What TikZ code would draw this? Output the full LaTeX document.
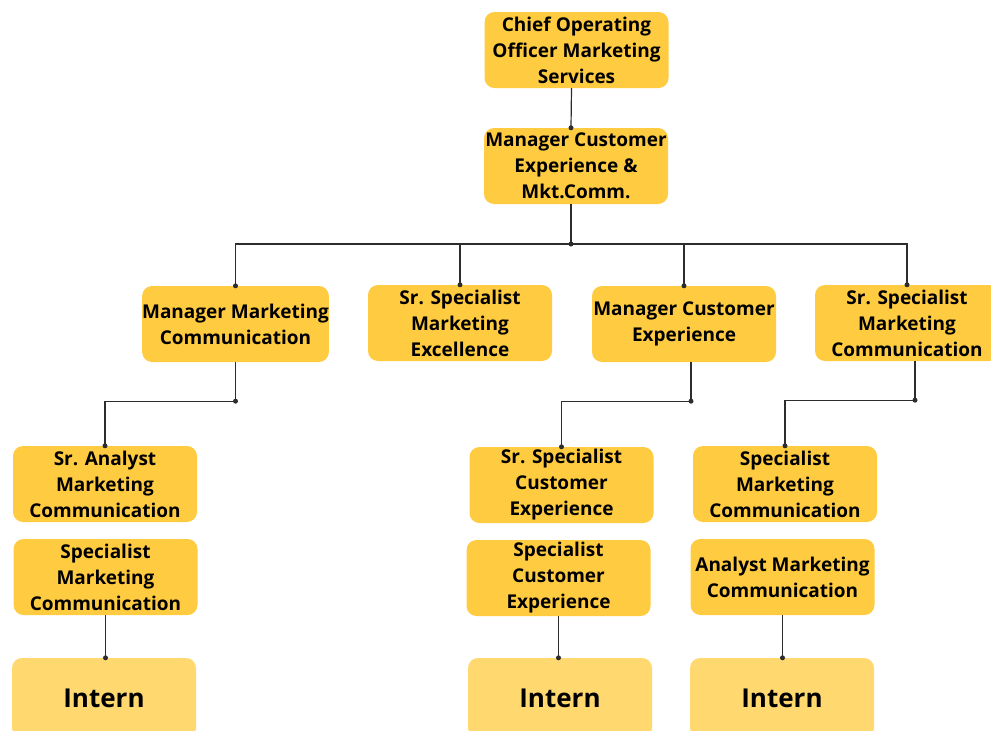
\documentclass[tikz,border=0pt]{standalone}
\usepackage{fontspec}
\setmainfont{Open Sans}
\definecolor{boxy}{RGB}{255,203,64}
\definecolor{interny}{RGB}{255,217,112}
\definecolor{linec}{RGB}{45,45,45}
\newcommand\orgdot[1]{\fill[linec] (#1) circle (2.5pt);}
\begin{document}
\begin{tikzpicture}[x=1pt,y=-1pt,
  box/.style={fill=boxy, rounded corners=10pt, minimum width=184pt, minimum height=76pt,
    align=center, inner sep=0pt, text=black, font=\fontsize{19}{26}\selectfont\bfseries},
  intern/.style={box, fill=interny, minimum height=80pt, font=\fontsize{26}{30}\selectfont\bfseries},
  conn/.style={draw=linec, line width=1.2pt}]
\useasboundingbox (0,0) rectangle (991,731);
\clip (0,0) rectangle (991,731);
% nodes
\node[box] (coo) at (576.5,50) {Chief Operating\\Officer Marketing\\Services};
\node[box] (mce) at (576,166) {Manager Customer\\Experience \&\\Mkt.Comm.};
\node[box] (mmc) at (235.5,324) {Manager Marketing\\Communication};
\node[box] (ssme) at (460,323) {Sr. Specialist\\Marketing\\Excellence};
\node[box] (mcx) at (684,324) {Manager Customer\\Experience};
\node[box] (ssmc) at (907,323) {Sr. Specialist\\Marketing\\Communication};
\node[box] (sam) at (105,484) {Sr. Analyst\\Marketing\\Communication};
\node[box] (smc1) at (105.5,577) {Specialist\\Marketing\\Communication};
\node[intern] (int1) at (104,698) {Intern};
\node[box] (sscx) at (561.5,485) {Sr. Specialist\\Customer\\Experience};
\node[box] (scx) at (558.5,578) {Specialist\\Customer\\Experience};
\node[intern] (int2) at (560,698) {Intern};
\node[box] (smc2) at (785,484) {Specialist\\Marketing\\Communication};
\node[box] (amc) at (782.5,577) {Analyst Marketing\\Communication};
\node[intern] (int3) at (782,698) {Intern};
% connectors
\draw[conn] ([xshift=-5pt]coo.south) -- ([xshift=-5pt]mce.north);
\orgdot{[xshift=-5pt]mce.north}
\coordinate (bus) at (571,244);
\draw[conn] ([xshift=-5pt]mce.south) -- (bus);
\orgdot{bus}
\draw[conn] (mmc.north) -- (mmc.north |- bus) -- (ssmc.north |- bus) -- (ssmc.north);
\draw[conn] (ssme.north |- bus) -- (ssme.north);
\draw[conn] (mcx.north |- bus) -- (mcx.north);
\orgdot{mmc.north}
\orgdot{ssme.north}
\orgdot{mcx.north}
\orgdot{ssmc.north}
\draw[conn] (mmc.south) -- ++(0,39) coordinate (e1) -| (sam.north);
\orgdot{e1}
\orgdot{sam.north}
\draw[conn] ([xshift=7pt]mcx.south) -- ++(0,39) coordinate (e2) -| (sscx.north);
\orgdot{e2}
\orgdot{sscx.north}
\draw[conn] ([xshift=8pt]ssmc.south) -- ++(0,39) coordinate (e3) -| (smc2.north);
\orgdot{e3}
\orgdot{smc2.north}
\draw[conn] (smc1.south) -- (smc1.south |- int1.north);
\orgdot{smc1.south |- int1.north}
\draw[conn] (scx.south) -- (scx.south |- int2.north);
\orgdot{scx.south |- int2.north}
\draw[conn] (amc.south) -- (amc.south |- int3.north);
\orgdot{amc.south |- int3.north}
\end{tikzpicture}
\end{document}
